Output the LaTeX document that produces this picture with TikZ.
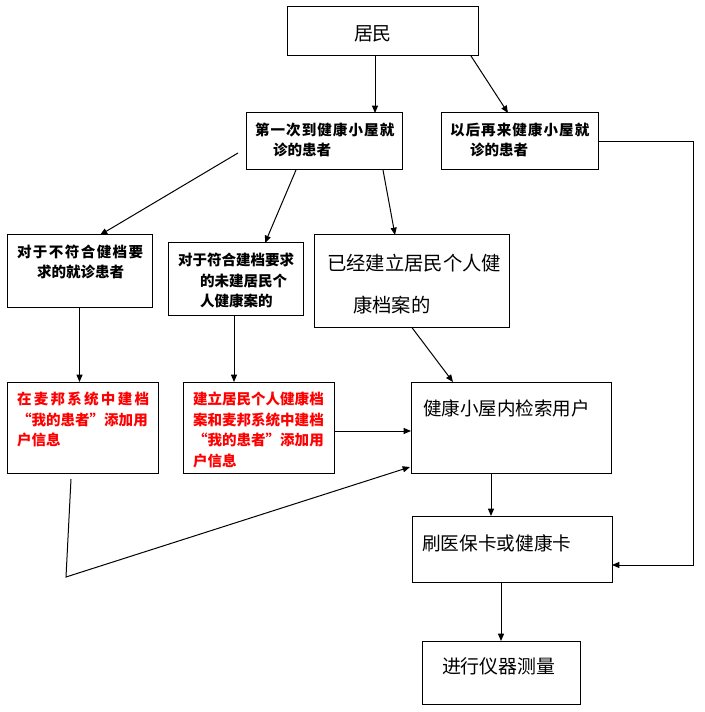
\documentclass[tikz,border=0pt]{standalone}
\usepackage{fontspec}
\setmainfont{Noto Sans CJK SC}
\usetikzlibrary{arrows.meta,calc}
\definecolor{redtxt}{RGB}{255,0,0}
\newcommand\lsp[2]{\def\lspk{#1}\lspgo#2\relax}
\def\lspgo#1{\ifx#1\relax\else#1\kern\lspk\expandafter\lspgo\fi}
\begin{document}
\begin{tikzpicture}[x=0.75pt,y=-0.75pt,
  box/.style={draw=black,line width=0.75pt,inner sep=0pt,outer sep=0pt,fill=white},
  lab/.style={anchor=north west,inner sep=0pt,outer sep=0pt,align=left},
  arr/.style={draw=black,line width=0.75pt,-{Triangle[length=5.5pt,width=4.5pt]}},
  ln/.style={draw=black,line width=0.75pt}]
\useasboundingbox (0,0) rectangle (704,712);
% boxes
\node[box,minimum width=191*0.75pt,minimum height=49*0.75pt] (jm) at (382.5,31.5) {};
\node[box,minimum width=156*0.75pt,minimum height=57*0.75pt] (first) at (324,141.5) {};
\node[box,minimum width=157*0.75pt,minimum height=57*0.75pt] (later) at (519.5,141.5) {};
\node[box,minimum width=145*0.75pt,minimum height=72*0.75pt] (notq) at (79.5,271) {};
\node[box,minimum width=135*0.75pt,minimum height=72*0.75pt] (qual) at (235.5,279) {};
\node[box,minimum width=195*0.75pt,minimum height=92*0.75pt] (have) at (411.5,281) {};
\node[box,minimum width=151*0.75pt,minimum height=91*0.75pt] (red1) at (82.5,427.5) {};
\node[box,minimum width=151*0.75pt,minimum height=91*0.75pt] (red2) at (258.5,427.5) {};
\node[box,minimum width=200*0.75pt,minimum height=91*0.75pt] (search) at (511,427.5) {};
\node[box,minimum width=200*0.75pt,minimum height=66*0.75pt] (card) at (512,549) {};
\node[box,minimum width=158*0.75pt,minimum height=63*0.75pt] (meas) at (501,672.5) {};
% texts
\node[lab,font=\fontsize{14.2pt}{17pt}\selectfont] (tjm) at (354,26) {居民};
\node[lab,font=\fontsize{10.9pt}{15pt}\selectfont\bfseries] (tfirst) at (255,123) {\lsp{0.8pt}{第一次到健康小屋就}\\\hspace*{13.5pt}诊的患者};
\node[lab,font=\fontsize{10.9pt}{15pt}\selectfont\bfseries] (tlater) at (450,123) {\lsp{0.8pt}{以后再来健康小屋就}\\\hspace*{15pt}诊的患者};
\node[lab,font=\fontsize{10.9pt}{15pt}\selectfont\bfseries] (tnotq) at (17,245) {\lsp{1.07pt}{对于不符合健档要}\\\hspace*{15pt}求的就诊患者};
\node[lab,font=\fontsize{10.9pt}{15.4pt}\selectfont\bfseries] (tqual) at (178,253) {对于符合建档要求\\\hspace*{16.5pt}的未建居民个\\\hspace*{16.5pt}人健康案的};
\node[lab,font=\fontsize{14.5pt}{31.5pt}\selectfont] (thave) at (327,254) {已经建立居民个人健\\\hspace*{19.5pt}康档案的};
\node[lab,font=\fontsize{13.9pt}{17pt}\selectfont] (tsearch) at (423,400) {健康小屋内检索用户};
\node[lab,text=redtxt,font=\fontsize{10.9pt}{15.4pt}\selectfont\bfseries] (tred1) at (17,392) {\lsp{1.7pt}{在麦邦系统中建档}\\“我的患者”添加用\\户信息};
\node[lab,text=redtxt,font=\fontsize{10.9pt}{15.4pt}\selectfont\bfseries] (tred2) at (193,392) {建立居民个人健康档\\案和麦邦系统中建档\\“我的患者”添加用\\户信息};
\node[lab,font=\fontsize{14pt}{17pt}\selectfont] (tcard) at (422,535) {刷医保卡或健康卡};
\node[lab,font=\fontsize{14.2pt}{17pt}\selectfont] (tmeas) at (442,658) {进行仪器测量};
% connectors
\draw[arr] ($(jm.south)+(-7.5,0)$) -- ($(first.north)+(51,0)$);
\draw[arr] ($(jm.south)+(88.5,0)$) -- ($(later.north)+(-11.5,0)$);
\draw[arr] (later.east) -- ++(95,0) |- ($(card.east)+(0,16)$);
\draw[arr] ($(first.west)+(-8,11.5)$) -- ($(notq.north)+(20.5,0)$);
\draw[arr] ($(first.south)+(-28,0)$) -- ($(qual.north)+(29.5,0)$);
\draw[arr] ($(first.south)+(59,0)$) -- ($(have.north)+(-16.5,0)$);
\draw[arr] (notq.south) -- (notq.south |- red1.north);
\draw[arr] ($(qual.south)+(-1.5,0)$) -- ($(qual.south |- red2.north)+(-1.5,0)$);
\draw[arr] (have.south) -- ($(search.north)+(-58,0)$);
\draw[arr] ($(red2.east)+(0,3.5)$) -- ($(search.west)+(0,3.5)$);
\coordinate (bend) at (66,577);
\draw[arr] ($(red1.south)+(-11.5,6)$) -- (bend) -- ($(search.south west)+(-1,-6)$);
\draw[arr] ($(search.south)+(-20,0)$) -- ($(card.north)+(-21,0)$);
\draw[arr] ($(card.south)+(-11,0)$) -- (meas.north);
\end{tikzpicture}
\end{document}
